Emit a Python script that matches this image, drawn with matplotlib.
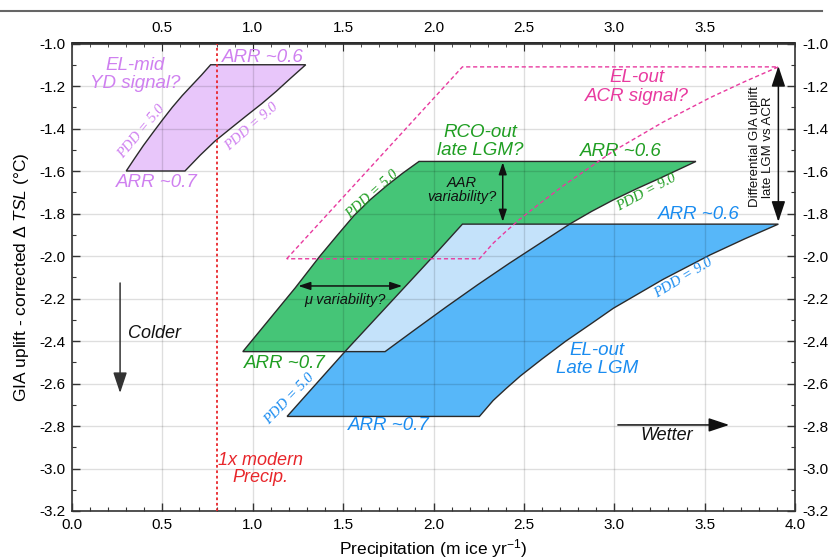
import numpy as np
import matplotlib
matplotlib.use("Agg")
import matplotlib.pyplot as plt
from matplotlib.patches import Polygon
from matplotlib.lines import Line2D
from matplotlib.ticker import MultipleLocator, FormatStrFormatter

plt.rcParams['font.family'] = ['Liberation Sans', 'DejaVu Sans']
plt.rcParams['mathtext.fontset'] = 'custom'
plt.rcParams['mathtext.rm'] = 'Liberation Sans'
plt.rcParams['mathtext.it'] = 'Liberation Sans:italic'
plt.rcParams['axes.unicode_minus'] = False

# --- data (precip m ice/yr, dTSL degC) ---
# EL-mid YD (purple)
purple_left = [(0.30, -1.60), (0.347, -1.54), (0.395, -1.48), (0.447, -1.42), (0.50, -1.36),
               (0.555, -1.30), (0.61, -1.245), (0.665, -1.195), (0.717, -1.148), (0.767, -1.10)]
purple_right = [(0.625, -1.60), (0.71, -1.525), (0.79, -1.46), (0.88, -1.398), (0.965, -1.34),
                (1.05, -1.283), (1.13, -1.225), (1.21, -1.163), (1.293, -1.10)]
# RCO-out late LGM (green)
green_left = [(0.945, -2.45), (1.09, -2.30), (1.235, -2.15), (1.372, -2.0), (1.47, -1.90),
              (1.56, -1.81), (1.65, -1.735), (1.74, -1.67), (1.83, -1.61), (1.92, -1.555)]
green_right = [(1.732, -2.45), (1.90, -2.345), (2.07, -2.24), (2.245, -2.135), (2.42, -2.034),
               (2.59, -1.94), (2.755, -1.849), (2.875, -1.79), (2.995, -1.736), (3.125, -1.683),
               (3.253, -1.634), (3.452, -1.555)]
# EL-out late LGM (blue)
blue_left = [(1.19, -2.755), (1.51, -2.45), (2.0, -2.0), (2.16, -1.85)]
blue_right = [(2.254, -2.755), (2.33, -2.68), (2.40, -2.625), (2.48, -2.565), (2.60, -2.485),
              (2.733, -2.40), (2.87, -2.32), (2.995, -2.246), (3.27, -2.11), (3.53, -1.995),
              (3.72, -1.92), (3.908, -1.85)]
# EL-out ACR (pink dashed)
pink_left = [(1.188, -2.013), (2.16, -1.11)]
pink_right = [(2.254, -2.013), (2.33, -1.94), (2.40, -1.885), (2.48, -1.825), (2.60, -1.745),
              (2.733, -1.66), (2.87, -1.58), (2.995, -1.506), (3.27, -1.37), (3.53, -1.255),
              (3.72, -1.18), (3.908, -1.11)]

modern_precip = 0.8
top_ticks = [0.5, 1.0, 1.5, 2.0, 2.5, 3.0, 3.5]

c_purple_fill, c_purple_txt = '#e8c6fa', '#cf80f0'
c_green_fill, c_green_txt = '#45c577', '#1f9e22'
c_blue_fill, c_blue_txt, c_overlap = '#57b7f9', '#1a8cf0', '#c4e2fa'
c_pink = '#e83a9f'
c_red = '#e8262b'
c_edge = '#2a2a2a'


def poly(left, right):
    return list(left) + list(reversed(right))


fig = plt.figure(figsize=(8.32, 5.6), dpi=100)
ax = fig.add_axes([72 / 832, 1 - 511 / 560, (795 - 72) / 832, (511 - 43.5) / 560])
ax.set_xlim(0, 4)
ax.set_ylim(-3.2, -1.0)
ax.set_axisbelow('line')
ax.grid(True, which='major', color='black', alpha=0.13, linewidth=1)

# filled regions
pg = Polygon(poly(purple_left, purple_right), fc=c_purple_fill, ec='none', zorder=1)
gg = Polygon(poly(green_left, green_right), fc=c_green_fill, ec='none', zorder=1)
bb = Polygon(poly(blue_left, blue_right), fc=c_blue_fill, ec='none', zorder=1)
for p in (pg, gg, bb):
    ax.add_patch(p)
ov = Polygon(poly(blue_left, blue_right), fc=c_overlap, ec='none', zorder=1.2)
ax.add_patch(ov)
ov.set_clip_path(gg)
for pts in (poly(purple_left, purple_right), poly(green_left, green_right), poly(blue_left, blue_right)):
    ax.add_patch(Polygon(pts, fill=False, ec=c_edge, lw=1.0, zorder=3))
ax.add_patch(Polygon(poly(pink_left, pink_right), fill=False, ec=c_pink, lw=1.0,
                     ls=(0, (3, 2)), zorder=4))

# modern precipitation line
ax.axvline(modern_precip, color=c_red, lw=1.3, ls=(0, (1.5, 1.5)), zorder=3.5)

# arrows
def arrow(x0, y0, x1, y1, style='-|>', color='#111', lw=1.1, ms=14):
    ax.annotate('', xy=(x1, y1), xytext=(x0, y0),
                arrowprops=dict(arrowstyle=style, color=color, lw=lw,
                                mutation_scale=ms, shrinkA=0, shrinkB=0), zorder=5)

arrow(0.266, -2.127, 0.266, -2.645, style='-|>,head_length=0.9,head_width=0.3', color='#333')
arrow(3.02, -2.795, 3.636, -2.795, style='-|>,head_length=0.9,head_width=0.3')
arrow(1.252, -2.141, 1.827, -2.141, style='<|-|>,head_length=0.6,head_width=0.2', ms=12)
arrow(2.383, -1.559, 2.383, -1.839, style='<|-|>,head_length=0.6,head_width=0.2', ms=12)
arrow(3.908, -1.106, 3.908, -1.839, style='<|-|>,head_length=0.9,head_width=0.3')

# labels
ti = dict(style='italic', ha='center', va='center', zorder=6)
ax.text(0.35, -1.145, 'EL-mid\nYD signal?', color=c_purple_txt, fontsize=13.5, linespacing=1.1, **ti)
ax.text(1.054, -1.065, 'ARR ~0.6', color=c_purple_txt, fontsize=13.5, **ti)
ax.text(0.468, -1.652, 'ARR ~0.7', color=c_purple_txt, fontsize=13.5, **ti)
ax.text(2.257, -1.46, 'RCO-out\nlate LGM?', color=c_green_txt, fontsize=13.5, linespacing=1.1, **ti)
ax.text(3.037, -1.506, 'ARR ~0.6', color=c_green_txt, fontsize=13.5, **ti)
ax.text(1.178, -2.505, 'ARR ~0.7', color=c_green_txt, fontsize=13.5, **ti)
ax.text(3.469, -1.807, 'ARR ~0.6', color=c_blue_txt, fontsize=13.5, **ti)
ax.text(1.75, -2.80, 'ARR ~0.7', color=c_blue_txt, fontsize=13.5, **ti)
ax.text(2.903, -2.488, 'EL-out\nLate LGM', color=c_blue_txt, fontsize=13.5, linespacing=1.1, **ti)
ax.text(3.125, -1.205, 'EL-out\nACR signal?', color=c_pink, fontsize=13.5, linespacing=1.1, **ti)
ax.text(2.157, -1.688, 'AAR\nvariability?', color='#111', fontsize=10.5, linespacing=1.0, **ti)
ax.text(1.512, -2.207, '\u03bc variability?', color='#111', fontsize=10.5, **ti)
ax.text(0.454, -2.364, 'Colder', color='#111', fontsize=13, **ti)
ax.text(3.29, -2.847, 'Wetter', color='#111', fontsize=13, **ti)
ax.text(1.045, -3.003, '1x modern\nPrecip.', color=c_red, fontsize=13, linespacing=1.05, **ti)
ax.text(3.815, -1.486, 'Differential GIA uplift\nlate LGM vs ACR', color='#111', fontsize=9.5,
        rotation=90, ha='center', va='center', linespacing=1.1, zorder=6)

pdd = dict(family='Liberation Serif', style='italic', fontsize=10.5, ha='center', va='center',
           rotation_mode='anchor', zorder=6)
ax.text(0.385, -1.415, 'PDD = 5.0', color=c_purple_txt, rotation=50, **pdd)
ax.text(0.994, -1.392, 'PDD = 9.0', color=c_purple_txt, rotation=41, **pdd)
ax.text(1.661, -1.71, 'PDD = 5.0', color=c_green_txt, rotation=42, **pdd)
ax.text(3.176, -1.702, 'PDD = 9.0', color=c_green_txt, rotation=28, **pdd)
ax.text(3.382, -2.102, 'PDD = 9.0', color=c_blue_txt, rotation=31, **pdd)
ax.text(1.205, -2.675, 'PDD = 5.0', color=c_blue_txt, rotation=46, **pdd)

# axes, ticks
ax.xaxis.set_major_locator(MultipleLocator(0.5))
ax.xaxis.set_minor_locator(MultipleLocator(0.1))
ax.yaxis.set_major_locator(MultipleLocator(0.2))
ax.yaxis.set_minor_locator(MultipleLocator(0.1))
ax.xaxis.set_major_formatter(FormatStrFormatter('%.1f'))
ax.yaxis.set_major_formatter(FormatStrFormatter('%.1f'))
ax.tick_params(which='both', direction='in', labelsize=11, color='#333',
               right=True, labelright=True)
ax.tick_params(which='major', length=6, width=1)
ax.tick_params(which='minor', length=3, width=0.8)
ax.tick_params(axis='x', pad=5)
ax.tick_params(axis='y', pad=5)
for s in ax.spines.values():
    s.set_linewidth(1.2)
    s.set_color('#333')

secx = ax.secondary_xaxis('top')
secx.set_xticks(top_ticks)
secx.xaxis.set_major_formatter(FormatStrFormatter('%.1f'))
secx.xaxis.set_minor_locator(MultipleLocator(0.1))
secx.tick_params(which='both', direction='in', labelsize=11, color='#333', pad=6)
secx.tick_params(which='major', length=6)
secx.tick_params(which='minor', length=3)
secx.spines['top'].set_linewidth(1.2)

ax.set_xlabel('Precipitation (m ice yr$^{-1}$)', fontsize=12.5, labelpad=4)
ax.set_ylabel(r'GIA uplift - corrected $\mathit{\Delta\ TSL}$ (°C)', fontsize=12.5, labelpad=6)

fig.add_artist(Line2D([0, 822 / 832], [1 - 11 / 560] * 2, color='#666', lw=1.5,
                      transform=fig.transFigure))

fig.savefig('out.png', dpi=100)
